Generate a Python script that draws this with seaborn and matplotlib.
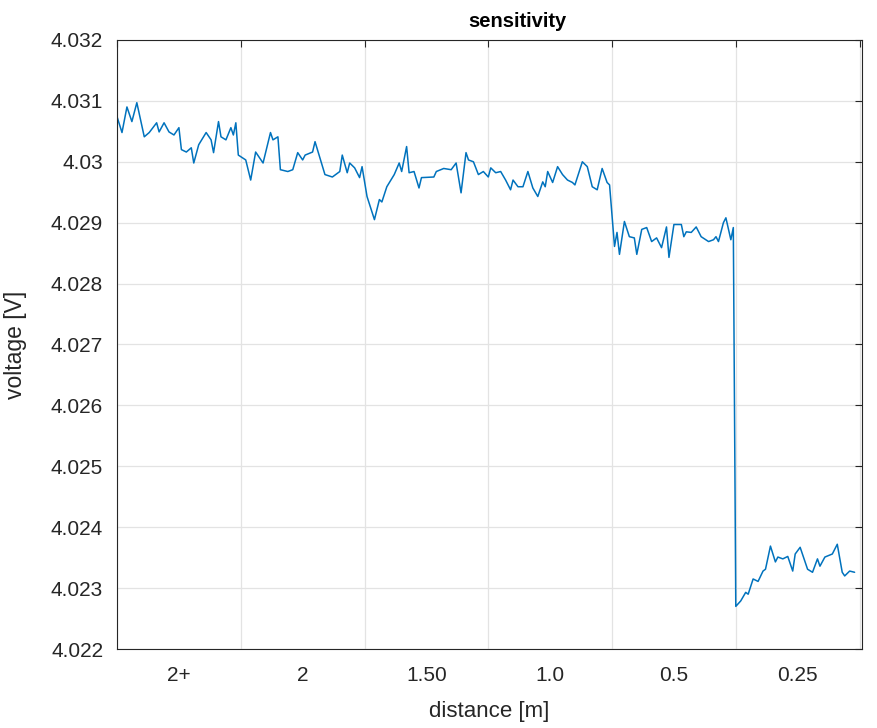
import numpy as np
import pandas as pd
import matplotlib
matplotlib.use("Agg")
import matplotlib.pyplot as plt
import seaborn as sns
from matplotlib.ticker import FixedLocator, NullFormatter, FixedFormatter

# ---- data ----
sample = [0, 2, 4, 6, 8, 11, 13, 16, 17, 19, 21, 23, 25, 26, 28, 30, 31, 33, 36, 38,
          39, 41, 42, 44, 46, 47, 48, 49, 52, 54, 56, 59, 62, 63, 65, 66, 69, 71, 73, 75,
          76, 79, 80, 84, 87, 90, 91, 93, 94, 96, 98, 99, 101, 104, 106, 107, 109, 112, 114, 115,
          117, 118, 120, 122, 123, 128, 129, 132, 135, 137, 139, 141, 142, 144, 146, 148, 150, 151, 153, 155,
          157, 159, 160, 162, 164, 166, 168, 170, 172, 173, 174, 176, 178, 180, 182, 184, 185, 188, 190, 192,
          194, 196, 198, 199, 201, 202, 203, 205, 207, 209, 210, 212, 214, 216, 218, 220, 222, 223, 225, 228,
          229, 230, 232, 234, 236, 239, 241, 242, 243, 245, 246, 248, 249, 250, 252, 254, 255, 257, 259, 261,
          262, 264, 266, 267, 269, 271, 273, 274, 276, 279, 281, 283, 284, 286, 289, 291, 293, 294, 296, 298]
voltage = [4.03074, 4.03048, 4.03090, 4.03066, 4.03097, 4.03041, 4.03048, 4.03064, 4.03049, 4.03064,
           4.03049, 4.03044, 4.03056, 4.03020, 4.03016, 4.03023, 4.02998, 4.03028, 4.03048, 4.03036,
           4.03015, 4.03066, 4.03041, 4.03036, 4.03056, 4.03044, 4.03064, 4.03011, 4.03003, 4.02970,
           4.03016, 4.02998, 4.03048, 4.03036, 4.03041, 4.02987, 4.02984, 4.02987, 4.03015, 4.03003,
           4.03011, 4.03016, 4.03033, 4.02979, 4.02975, 4.02984, 4.03011, 4.02982, 4.02998, 4.02990,
           4.02974, 4.02992, 4.02943, 4.02905, 4.02938, 4.02934, 4.02959, 4.02979, 4.02998, 4.02984,
           4.03025, 4.02982, 4.02984, 4.02957, 4.02974, 4.02975, 4.02984, 4.02989, 4.02987, 4.02998,
           4.02949, 4.03015, 4.03003, 4.03000, 4.02979, 4.02984, 4.02975, 4.02990, 4.02982, 4.02984,
           4.02970, 4.02954, 4.02970, 4.02959, 4.02959, 4.02984, 4.02957, 4.02943, 4.02967, 4.02959,
           4.02984, 4.02966, 4.02992, 4.02979, 4.02970, 4.02966, 4.02962, 4.03000, 4.02992, 4.02959,
           4.02954, 4.02989, 4.02966, 4.02962, 4.02861, 4.02884, 4.02848, 4.02902, 4.02877, 4.02875,
           4.02848, 4.02889, 4.02892, 4.02869, 4.02875, 4.02859, 4.02893, 4.02843, 4.02897, 4.02897,
           4.02877, 4.02885, 4.02884, 4.02893, 4.02877, 4.02869, 4.02872, 4.02877, 4.02869, 4.02900,
           4.02908, 4.02872, 4.02892, 4.02270, 4.02279, 4.02293, 4.02290, 4.02315, 4.02311, 4.02328,
           4.02331, 4.02369, 4.02343, 4.02351, 4.02348, 4.02352, 4.02328, 4.02356, 4.02367, 4.02331,
           4.02326, 4.02348, 4.02336, 4.02351, 4.02356, 4.02372, 4.02326, 4.02320, 4.02328, 4.02326]

segment_bounds = [0, 50, 100, 150, 200, 250, 300]
distance_labels = ["2+", "2", "1.50", "1.0", "0.5", "0.25"]
ytick_values = [4.022, 4.023, 4.024, 4.025, 4.026, 4.027, 4.028, 4.029, 4.030, 4.031, 4.032]
ytick_labels = ["4.022", "4.023", "4.024", "4.025", "4.026", "4.027", "4.028", "4.029", "4.03", "4.031", "4.032"]

df = pd.DataFrame({"sample": sample, "voltage": voltage})

sns.set_style("white")
plt.rcParams["font.family"] = ["Liberation Sans", "DejaVu Sans"]

fig = plt.figure(figsize=(8.78, 7.28), dpi=100)
ax = fig.add_axes([0.1333, 0.1085, 0.9818 - 0.1333, 0.9451 - 0.1085])

sns.lineplot(data=df, x="sample", y="voltage", ax=ax, color="#0072BD", linewidth=1.1)

ax.set_xlim(0, 301)
ax.set_ylim(4.022, 4.032)

# x: grid/ticks at segment boundaries, labels centred in segments
ax.xaxis.set_major_locator(FixedLocator(segment_bounds))
ax.xaxis.set_major_formatter(NullFormatter())
centers = [(segment_bounds[i] + segment_bounds[i + 1]) / 2 for i in range(len(distance_labels))]
ax.xaxis.set_minor_locator(FixedLocator(centers))
ax.xaxis.set_minor_formatter(FixedFormatter(distance_labels))

ax.set_yticks(ytick_values)
ax.set_yticklabels(ytick_labels)

ax.grid(True, which="major", color="#e3e3e3", linewidth=0.9)
ax.tick_params(axis="both", which="major", direction="in", length=5, width=0.8,
               colors="#262626", labelsize=15, top=True, right=True)
ax.tick_params(axis="x", which="minor", length=0, labelsize=15, colors="#262626", pad=12)
ax.tick_params(axis="y", which="major", pad=10)

for s in ax.spines.values():
    s.set_color("#262626")
    s.set_linewidth(0.8)
    s.set_visible(True)

ax.set_xlabel("distance [m]", fontsize=16, color="#262626", labelpad=12)
ax.set_ylabel("voltage [V]", fontsize=16.5, color="#262626", labelpad=17)
ax.set_title("sensitivity", fontsize=14.5, fontweight="bold", color="black", pad=9, x=0.538)

fig.savefig("out.png", dpi=100, facecolor="white")
